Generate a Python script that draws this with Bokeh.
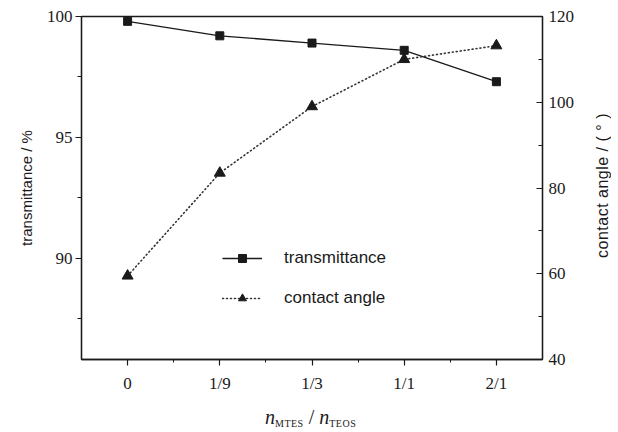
from bokeh.plotting import figure
from bokeh.models import Range1d, LinearAxis, FixedTicker, Legend, LegendItem, Div
from bokeh.layouts import column, row
from bokeh.embed import file_html
from bokeh.resources import INLINE

# ---- data ----
categories = ["0", "1/9", "1/3", "1/1", "2/1"]
positions = [0, 1, 2, 3, 4]
transmittance = [99.8, 99.2, 98.9, 98.6, 97.3]
contact_angle = [59.5, 83.5, 99.0, 110.0, 113.2]

left_ticks = [90, 95, 100]
left_minor = [87.5, 92.5, 97.5]
right_ticks = [40, 60, 80, 100, 120]
right_minor = [50, 70, 90, 110]
x_minor = [0.5, 1.5, 2.5, 3.5]

INK = "#1a1a1a"
SERIF = "Liberation Serif"
SANS = "Liberation Sans"

p = figure(width=582, height=400, output_backend="svg", toolbar_location=None,
           x_range=Range1d(-0.5, 4.5), y_range=Range1d(85.8, 100),
           min_border_left=81, min_border_right=40, min_border_top=16,
           min_border_bottom=41, background_fill_color="white",
           border_fill_color="white", margin=0)
p.grid.visible = False
p.outline_line_color = INK
p.outline_line_width = 1.3

# bottom axis
xa = p.xaxis[0]
xa.ticker = FixedTicker(ticks=positions, minor_ticks=x_minor)
xa.major_label_overrides = {pos: lab for pos, lab in zip(positions, categories)}
xa.major_tick_in = 0
xa.major_tick_out = 6
xa.minor_tick_in = 0
xa.minor_tick_out = 3
xa.major_label_standoff = 8

# left axis
ya = p.yaxis[0]
ya.ticker = FixedTicker(ticks=left_ticks, minor_ticks=left_minor)
ya.major_tick_in = 0
ya.major_tick_out = 6
ya.minor_tick_in = 0
ya.minor_tick_out = 4
ya.major_label_standoff = 3
ya.axis_label = "transmittance / %"
ya.axis_label_standoff = 9

# right axis (its title is drawn beside the figure, reading upwards)
p.extra_y_ranges = {"ca": Range1d(40, 120)}
ra = LinearAxis(y_range_name="ca",
                ticker=FixedTicker(ticks=right_ticks, minor_ticks=right_minor))
ra.major_tick_in = 6
ra.major_tick_out = 0
ra.minor_tick_in = 4
ra.minor_tick_out = 0
ra.major_label_standoff = 6
p.add_layout(ra, "right")

for ax in [xa, ya, ra]:
    ax.axis_line_color = INK
    ax.axis_line_width = 1.3
    ax.major_tick_line_color = INK
    ax.minor_tick_line_color = INK
    ax.major_tick_line_width = 1.2
    ax.minor_tick_line_width = 1.0
    ax.major_label_text_font = SERIF
    ax.major_label_text_font_size = "17px"
    ax.major_label_text_color = INK
    ax.axis_label_text_font = SANS
    ax.axis_label_text_font_size = "15px"
    ax.axis_label_text_font_style = "normal"
    ax.axis_label_text_color = INK
ya.major_label_orientation = "horizontal"
ra.major_label_orientation = "horizontal"

# series
r1 = p.line(positions, transmittance, line_color=INK, line_width=1.3)
m1 = p.scatter(positions, transmittance, marker="square", size=8,
               fill_color=INK, line_color=INK)
r2 = p.line(positions, contact_angle, y_range_name="ca", line_color="#333333",
            line_width=1.6, line_dash="1 3", line_cap="round")
m2 = p.scatter(positions, contact_angle, y_range_name="ca", marker="triangle",
               size=11, fill_color=INK, line_color=INK)

legend = Legend(items=[LegendItem(label="transmittance", renderers=[r1, m1]),
                       LegendItem(label="contact angle", renderers=[r2, m2])],
                location=(141, 51), glyph_width=40, glyph_height=20,
                label_height=20, label_standoff=22, spacing=20, padding=0,
                margin=0, border_line_color=None, background_fill_alpha=0,
                label_text_font=SANS, label_text_font_size="17px",
                label_text_color=INK)
p.add_layout(legend)

# x-axis title: n_MTES / n_TEOS
sub = "font-size:10px; letter-spacing:0.5px; vertical-align:-3px;"
title_html = (
    '<div style="margin-left:265px; padding-top:5px; line-height:24px; '
    "font-family:'Liberation Serif'; font-size:20px; color:#1a1a1a; "
    'white-space:nowrap;">'
    f'<i>n</i><span style="{sub}">MTES</span> / '
    f'<i>n</i><span style="{sub}">TEOS</span></div>'
)
xtitle = Div(text=title_html, width=582, height=32, margin=0)

# right axis title
rtitle_html = (
    '<div style="margin-left:12px; width:18px; height:372px; line-height:18px; '
    "writing-mode:vertical-rl; transform:rotate(180deg); text-align:center; "
    "font-family:'Liberation Sans'; font-size:16px; letter-spacing:0.5px; "
    'color:#1a1a1a; white-space:nowrap;">contact angle / ( ° )</div>'
)
rtitle = Div(text=rtitle_html, width=36, height=432, margin=0,
             styles={"background-color": "white"})

layout = row(column(p, xtitle, spacing=0, margin=0), rtitle, spacing=0, margin=0)
open("out.html", "w").write(file_html(layout, INLINE))
